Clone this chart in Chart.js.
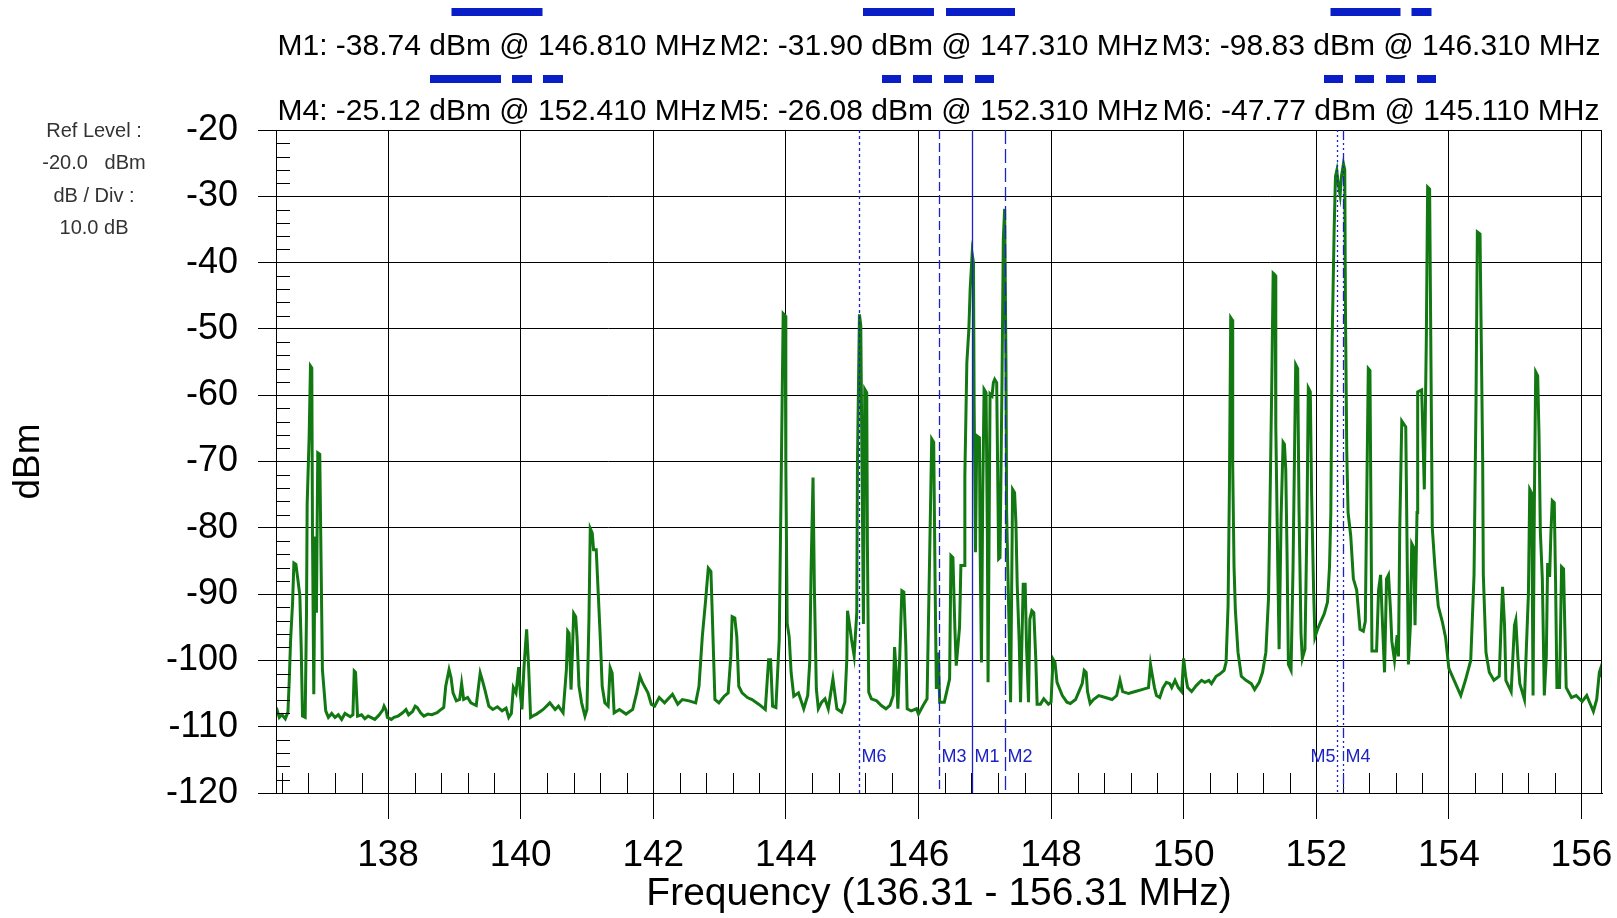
<!DOCTYPE html>
<html>
<head>
<meta charset="utf-8">
<script src="https://cdn.jsdelivr.net/npm/chart.js@4.4.0/dist/chart.umd.min.js"></script>
<style>
  html, body { margin: 0; padding: 0; background: #fff; }
  #wrap { width: 1617px; height: 918px; position: relative; }
</style>
</head>
<body>
<div id="wrap"><canvas id="spectrum"></canvas></div>
<script>
const xTicks = [138, 140, 142, 144, 146, 148, 150, 152, 154, 156];
const yTicks = [-120, -110, -100, -90, -80, -70, -60, -50, -40, -30, -20];

const markerNames = ["M1", "M2", "M3", "M4", "M5", "M6"];
const markerFreqs = [146.81, 147.31, 146.31, 152.41, 152.31, 145.11];
const markerLevels = [-38.74, -31.90, -98.83, -25.12, -26.08, -47.77];

const infoLines = ["Ref Level :", "-20.0   dBm", "dB / Div :", "10.0 dB"];

// trace: [MHz, dBm]
const trace = [
  [136.31,-108.0],[136.33,-107.6],[136.36,-108.6],[136.40,-108.2],[136.45,-108.8],[136.49,-107.8],
  [136.51,-103.0],[136.53,-97.0],[136.56,-91.3],[136.58,-85.3],[136.61,-85.5],[136.64,-87.8],
  [136.67,-90.3],[136.69,-98.0],[136.71,-108.4],[136.75,-108.6],[136.77,-92.8],[136.78,-76.5],
  [136.81,-66.2],[136.83,-55.6],[136.85,-55.9],[136.86,-80.3],[136.88,-105.1],[136.90,-81.3],
  [136.92,-92.8],[136.94,-68.7],[136.97,-68.9],[136.99,-85.3],[137.01,-101.4],[137.06,-107.6],
  [137.10,-108.6],[137.15,-108.0],[137.20,-108.6],[137.25,-108.2],[137.30,-108.9],[137.35,-108.0],
  [137.43,-108.5],[137.47,-108.2],[137.49,-101.6],[137.51,-101.8],[137.54,-108.4],[137.60,-108.2],
  [137.65,-108.8],[137.70,-108.4],[137.74,-108.6],[137.80,-108.9],[137.86,-108.3],[137.92,-107.5],
  [137.94,-106.9],[137.97,-107.5],[137.99,-108.6],[138.05,-108.9],[138.09,-108.6],[138.15,-108.4],
  [138.22,-107.9],[138.27,-107.4],[138.31,-108.2],[138.37,-107.7],[138.41,-106.9],[138.44,-107.1],
  [138.49,-107.9],[138.54,-108.4],[138.60,-108.1],[138.66,-108.2],[138.74,-107.9],[138.80,-107.4],
  [138.84,-107.1],[138.87,-103.9],[138.92,-101.4],[138.95,-102.6],[138.98,-104.9],[139.03,-106.1],
  [139.08,-105.9],[139.11,-103.5],[139.14,-105.9],[139.20,-105.6],[139.25,-106.4],[139.33,-106.8],
  [139.37,-103.5],[139.39,-101.9],[139.42,-102.9],[139.46,-104.4],[139.52,-106.9],[139.58,-107.4],
  [139.65,-107.0],[139.72,-107.6],[139.78,-107.2],[139.82,-108.6],[139.86,-108.0],[139.89,-104.1],
  [139.93,-104.9],[139.97,-101.0],[140.00,-105.5],[140.02,-107.4],[140.05,-101.1],[140.09,-95.3],
  [140.12,-100.9],[140.15,-108.6],[140.20,-108.3],
  [140.24,-108.1],[140.34,-107.4],[140.44,-106.4],[140.52,-107.4],[140.57,-106.9],[140.64,-107.9],
  [140.69,-101.4],[140.71,-95.6],[140.73,-95.9],[140.76,-104.4],[140.78,-98.9],[140.80,-92.9],
  [140.83,-93.4],[140.85,-96.4],[140.88,-103.9],[140.92,-106.4],[140.97,-108.4],[141.00,-107.4],
  [141.03,-93.9],[141.05,-80.1],[141.08,-80.8],[141.10,-83.3],[141.14,-83.3],[141.17,-89.8],
  [141.20,-96.4],[141.23,-103.9],[141.27,-106.4],[141.32,-106.9],[141.35,-101.1],[141.38,-101.9],
  [141.41,-107.9],[141.49,-107.4],[141.59,-108.1],[141.69,-107.4],[141.75,-104.9],[141.80,-102.4],
  [141.84,-103.4],[141.92,-104.9],[141.97,-106.6],[142.02,-106.9],[142.09,-105.6],[142.17,-106.4],
  [142.29,-105.1],[142.37,-106.6],[142.44,-105.9],[142.54,-106.1],[142.64,-106.4],[142.69,-103.9],
  [142.74,-96.4],[142.79,-90.9],[142.83,-86.1],[142.87,-86.6],[142.89,-92.9],[142.93,-105.9],
  [142.99,-106.4],[143.07,-105.4],[143.13,-104.9],[143.17,-99.4],[143.19,-93.4],[143.23,-93.6],
  [143.26,-96.4],[143.29,-103.9],[143.34,-104.9],[143.42,-105.6],[143.49,-105.9],[143.59,-106.6],
  [143.69,-107.4],[143.74,-99.9],[143.77,-99.9],[143.80,-106.9],[143.85,-107.1],[143.90,-96.9],
  [143.92,-80.8],[143.94,-64.3],[143.96,-47.7],[143.99,-48.0],[144.00,-70.8],[144.02,-94.4],
  [144.05,-96.4],[144.08,-101.9],[144.12,-105.4],[144.19,-104.9],
  [144.27,-107.3],[144.33,-105.3],[144.36,-100.3],[144.38,-86.7],[144.41,-72.4],[144.43,-89.0],
  [144.46,-104.3],[144.49,-107.3],[144.54,-106.3],[144.59,-105.8],[144.64,-107.3],[144.71,-102.8],
  [144.73,-104.3],[144.77,-107.3],[144.84,-107.8],[144.89,-106.3],[144.92,-99.8],[144.93,-92.5],
  [144.97,-95.3],[144.99,-96.8],[145.03,-99.3],[145.07,-92.8],[145.08,-70.2],[145.11,-47.8],
  [145.13,-49.5],[145.15,-71.7],[145.17,-94.5],[145.19,-59.1],[145.22,-59.6],[145.23,-82.2],
  [145.25,-104.8],[145.29,-105.8],[145.37,-106.1],[145.44,-106.8],[145.51,-107.3],[145.57,-106.8],
  [145.62,-105.3],[145.64,-98.0],[145.67,-102.8],[145.69,-107.3],[145.72,-98.8],[145.75,-89.5],
  [145.78,-89.7],[145.81,-97.8],[145.83,-107.3],[145.89,-107.6],[145.97,-107.3],[146.00,-108.1],
  [146.07,-106.8],[146.13,-105.8],[146.17,-83.7],[146.20,-66.6],[146.23,-67.1],[146.25,-87.2],
  [146.27,-104.3],[146.30,-98.8],[146.32,-106.3],[146.39,-106.3],[146.47,-102.8],[146.49,-84.2],
  [146.52,-84.5],[146.55,-95.3],[146.57,-100.8],[146.62,-95.0],[146.64,-85.7],[146.69,-85.7],
  [146.70,-72.2],[146.73,-55.1],[146.76,-50.1],[146.78,-44.0],[146.81,-38.7],[146.83,-40.0],
  [146.84,-61.6],[146.86,-83.7],[146.88,-66.1],[146.92,-66.4],[146.93,-82.7],[146.95,-100.3],
  [146.97,-74.7],[146.99,-59.1],[147.02,-59.6],[147.04,-81.7],[147.05,-103.3],[147.08,-59.8],
  [147.11,-60.1],[147.13,-58.1],[147.15,-57.6],[147.18,-58.1],[147.21,-84.7],[147.23,-84.5],
  [147.26,-58.3],[147.28,-36.5],[147.30,-31.9],[147.32,-55.1],[147.33,-77.7],[147.36,-91.8],
  [147.39,-106.3],[147.42,-74.2],[147.45,-74.7],[147.47,-79.2],[147.49,-88.7],[147.52,-97.3],
  [147.54,-106.3],[147.58,-88.5],[147.61,-88.5],[147.63,-97.8],[147.66,-106.3],[147.68,-93.8],
  [147.71,-92.5],[147.74,-92.8],[147.77,-99.8],[147.79,-106.6],[147.84,-106.6],[147.89,-105.8],
  [147.96,-106.6],[148.00,-106.3],[148.03,-99.8],[148.06,-100.3],[148.09,-103.3],[148.17,-105.3],
  [148.24,-106.3],[148.29,-106.5],[148.37,-105.9],[148.42,-104.7],[148.47,-103.5],[148.50,-101.5],
  [148.53,-101.8],[148.55,-104.7],[148.59,-106.5],[148.64,-105.9],[148.72,-105.3],[148.82,-105.6],
  [148.92,-105.9],[148.99,-105.3],[149.04,-103.0],[149.08,-104.7],[149.17,-105.0],[149.27,-104.7],
  [149.37,-104.4],[149.47,-104.1],[149.50,-100.6],[149.53,-102.4],[149.56,-104.1],[149.59,-105.3],
  [149.64,-105.6],[149.69,-104.1],[149.74,-103.3],[149.79,-103.5],[149.82,-104.1],[149.87,-103.0],
  [149.92,-104.1],[149.97,-104.7],[150.00,-99.7],[150.03,-102.4],[150.06,-104.1],[150.12,-104.7],
  [150.19,-103.8],[150.27,-103.0],[150.32,-103.3],[150.38,-103.0],[150.42,-103.5],[150.49,-102.4],
  [150.54,-102.1],[150.61,-101.5],[150.64,-100.3],[150.67,-91.8],[150.69,-74.2],[150.71,-48.3],
  [150.73,-48.6],[150.74,-70.6],[150.76,-85.9],[150.78,-92.4],[150.82,-98.8],[150.87,-102.4],
  [150.94,-103.0],[151.02,-103.5],[151.07,-104.4],[151.14,-103.3],[151.19,-101.8],[151.24,-98.8],
  [151.28,-90.6],[151.30,-78.3],[151.33,-57.7],[151.35,-41.6],[151.38,-41.9],[151.39,-64.8],
  [151.42,-85.9],[151.44,-98.3],[151.47,-78.3],[151.50,-67.1],[151.52,-67.4],[151.54,-71.2],
  [151.56,-84.2],[151.58,-100.6],[151.62,-101.5],[151.65,-85.9],[151.67,-70.6],[151.69,-55.4],
  [151.72,-56.0],[151.74,-77.1],[151.77,-95.9],[151.79,-99.7],[151.83,-98.3],[151.86,-78.9],
  [151.88,-58.9],[151.91,-59.5],[151.93,-74.8],[151.96,-89.4],[151.98,-96.5],[152.02,-95.3],
  [152.07,-94.1],[152.12,-93.0],[152.17,-91.2],[152.20,-85.9],[152.22,-77.7],
  [152.24,-51.8],[152.27,-35.0],[152.29,-27.0],[152.31,-26.1],[152.33,-28.0],[152.36,-29.8],
  [152.38,-27.0],[152.41,-25.1],[152.43,-26.0],[152.44,-46.6],[152.46,-68.3],[152.48,-77.7],
  [152.52,-81.2],[152.56,-87.7],[152.61,-89.4],[152.66,-95.3],[152.71,-95.6],[152.74,-94.1],
  [152.76,-77.1],[152.785,-56.0],[152.81,-56.3],[152.825,-77.1],[152.84,-98.6],[152.91,-98.6],
  [152.94,-89.4],[152.97,-87.1],[153.00,-94.7],[153.03,-101.8],[153.06,-87.7],[153.09,-87.1],
  [153.12,-92.4],[153.14,-97.1],[153.18,-100.0],[153.22,-96.2],[153.24,-99.4],[153.26,-80.0],
  [153.29,-63.9],[153.35,-64.8],[153.37,-83.0],[153.39,-100.6],[153.42,-94.7],[153.44,-82.4],
  [153.47,-83.0],[153.49,-94.7],[153.52,-77.7],[153.53,-59.5],[153.59,-59.2],[153.61,-66.5],
  [153.63,-74.2],[153.66,-51.8],[153.68,-28.6],[153.71,-28.9],[153.73,-54.8],[153.75,-80.0],
  [153.79,-85.9],[153.84,-91.8],[153.90,-94.1],[153.95,-96.5],[154.00,-101.2],[154.08,-103.0],
  [154.18,-105.3],[154.25,-103.0],[154.33,-100.0],[154.38,-87.1],[154.41,-60.7],[154.43,-35.4],
  [154.47,-35.7],[154.49,-52.4],[154.51,-69.5],[154.52,-87.1],[154.56,-98.8],[154.61,-101.8],
  [154.68,-103.0],[154.76,-102.4],[154.79,-94.1],[154.81,-88.9],[154.84,-94.7],[154.86,-103.0],
  [154.94,-104.7],[154.99,-94.7],[155.01,-93.9],[155.04,-99.4],[155.07,-103.5],[155.14,-105.9],
  [155.20,-90.0],[155.22,-74.2],[155.25,-74.8],[155.27,-105.3],[155.29,-75.9],[155.31,-56.5],
  [155.34,-57.1],[155.36,-65.9],[155.38,-80.6],[155.41,-87.7],[155.44,-105.3],[155.47,-99.4],
  [155.49,-85.3],[155.52,-87.4],[155.54,-80.6],[155.56,-75.9],[155.59,-76.2],[155.61,-88.3],
  [155.63,-104.1],[155.67,-104.1],[155.70,-85.9],[155.73,-86.2],[155.75,-95.3],[155.77,-104.1],
  [155.85,-105.6],[155.92,-105.3],[156.01,-106.2],[156.08,-105.3],[156.13,-106.5],[156.18,-107.7],
  [156.23,-105.9],[156.27,-101.8],[156.29,-101.2],[156.31,-102.5]
];

// styles
const FONT = "'Liberation Sans', Arial, sans-serif";
const MARK_BLUE = "#1c22c4";
const BAR_BLUE = "#0a1ec8";
const markerDash = [[], [14, 5], [9, 4], [10, 3, 2, 3, 2, 3], [2, 3], [3, 3]];
const markerLabelSide = [1, 1, 1, 1, -1, 1];
// header sample bars: dash pattern and total length
const sampleDash = [[], [71, 12], [70, 11, 20, 11], [71, 11, 20, 11, 20, 11], [19, 12], [19, 12]];
const sampleLen = [91, 152, 101, 134, 114, 114];

const decorations = {
  id: "decorations",
  afterDatasetsDraw(chart) {
    const { ctx, chartArea: a, scales: { x, y } } = chart;
    ctx.save();

    // frame
    ctx.strokeStyle = "#000";
    ctx.lineWidth = 1;
    ctx.strokeRect(a.left + 0.5, a.top + 0.5, a.right - a.left - 1, a.bottom - a.top);

    // minor ticks
    ctx.beginPath();
    for (let v = -118; v < -20; v += 2) {
      if (v % 10 === 0) continue;
      const py = Math.round(y.getPixelForValue(v)) + 0.5;
      ctx.moveTo(a.left, py);
      ctx.lineTo(a.left + 14, py);
    }
    for (let k = 0; k < 50; k++) {
      const v = 136.4 + k * 0.4;
      if (v > 156.31) break;
      if (Math.abs(v / 2 - Math.round(v / 2)) < 0.01) continue;
      const px = Math.round(x.getPixelForValue(v)) + 0.5;
      ctx.moveTo(px, a.bottom);
      ctx.lineTo(px, a.bottom - 20);
    }
    ctx.stroke();

    // marker lines + labels
    ctx.strokeStyle = MARK_BLUE;
    ctx.fillStyle = MARK_BLUE;
    ctx.lineWidth = 1.3;
    ctx.font = "18px " + FONT;
    ctx.textBaseline = "middle";
    markerFreqs.forEach((f, i) => {
      const px = Math.round(x.getPixelForValue(f)) + 0.5;
      ctx.setLineDash(markerDash[i]);
      ctx.beginPath();
      ctx.moveTo(px, a.top);
      ctx.lineTo(px, a.bottom);
      ctx.stroke();
      const side = markerLabelSide[i];
      ctx.textAlign = side > 0 ? "left" : "right";
      ctx.fillText(markerNames[i], px + side * 2, a.bottom - 36);
    });
    ctx.setLineDash([]);

    // header: marker readouts with line samples
    const third = (a.right - a.left) / 3;
    ctx.font = "30px " + FONT;
    ctx.textAlign = "center";
    markerNames.forEach((name, i) => {
      const cx = a.left + (i % 3 + 0.5) * third;
      const row = Math.floor(i / 3);
      const text = name + ": " + markerLevels[i].toFixed(2) + " dBm @ " + markerFreqs[i].toFixed(3) + " MHz";
      ctx.fillStyle = "#000";
      ctx.fillText(text, cx, a.top - 83 + row * 65);
      ctx.strokeStyle = BAR_BLUE;
      ctx.lineWidth = 8;
      ctx.setLineDash(sampleDash[i]);
      ctx.beginPath();
      const by = a.top - 118 + row * 67;
      ctx.moveTo(cx - sampleLen[i] / 2, by);
      ctx.lineTo(cx + sampleLen[i] / 2, by);
      ctx.stroke();
    });
    ctx.setLineDash([]);

    // reference level info
    ctx.fillStyle = "#333";
    ctx.font = "20px " + FONT;
    infoLines.forEach((t, i) => {
      ctx.fillText(t, 94, a.top + 1 + i * 32.5);
    });
    ctx.restore();
  }
};

new Chart(document.getElementById("spectrum"), {
  type: "scatter",
  data: {
    datasets: [{
      data: trace.map(p => ({ x: p[0], y: p[1] })),
      showLine: true,
      borderColor: "#127812",
      borderWidth: 3,
      pointRadius: 0,
      tension: 0
    }]
  },
  options: {
    responsive: true,
    maintainAspectRatio: false,
    animation: false,
    layout: { padding: { top: 130, right: 15, left: 0, bottom: 0 } },
    plugins: { legend: { display: false }, tooltip: { enabled: false } },
    scales: {
      x: {
        type: "linear",
        min: 136.31,
        max: 156.31,
        afterBuildTicks: s => { s.ticks = xTicks.map(v => ({ value: v })); },
        afterFit: s => { s.height = 125; s.paddingLeft = 0; s.paddingRight = 0; },
        grid: { color: "#000", lineWidth: 1, tickLength: 26 },
        border: { color: "#000" },
        ticks: { color: "#000", padding: 15, maxRotation: 0, font: { family: FONT, size: 37 } },
        title: {
          display: true, text: "Frequency (136.31 - 156.31 MHz)", color: "#000",
          font: { family: FONT, size: 39 }, padding: { top: 0, bottom: 0 }
        }
      },
      y: {
        min: -120,
        max: -20,
        afterBuildTicks: s => { s.ticks = yTicks.map(v => ({ value: v })); },
        afterFit: s => { s.width = 276; s.paddingTop = 0; s.paddingBottom = 0; },
        grid: { color: "#000", lineWidth: 1, tickLength: 18 },
        border: { color: "#000" },
        ticks: { color: "#000", padding: 20, font: { family: FONT, size: 36 } },
        title: {
          display: true, text: "dBm", color: "#000",
          font: { family: FONT, size: 37 }, padding: { top: 7, bottom: 0 }
        }
      }
    }
  },
  plugins: [decorations]
});
</script>
</body>
</html>
